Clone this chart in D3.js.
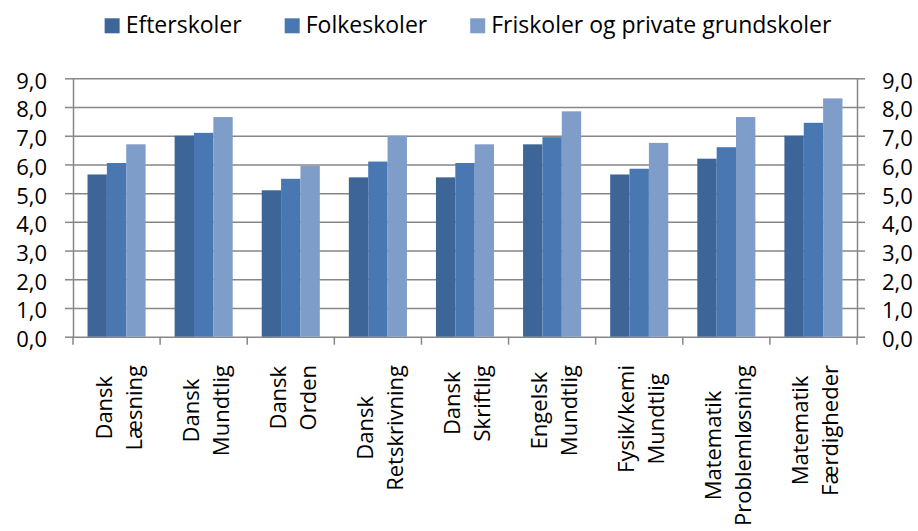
<!DOCTYPE html>
<html>
<head>
<meta charset="utf-8">
<script src="https://cdn.jsdelivr.net/npm/d3@7"></script>
<style>
	body { margin: 0; background: #fff; }
	text { font-family: "Open Sans", "Noto Sans", sans-serif; fill: #000; }
</style>
</head>
<body>
<div class="container"></div>
<script>
var categories = [
	["Dansk", "Læsning"],
	["Dansk", "Mundtlig"],
	["Dansk", "Orden"],
	["Dansk", "Retskrivning"],
	["Dansk", "Skriftlig"],
	["Engelsk", "Mundtlig"],
	["Fysik/kemi", "Mundtlig"],
	["Matematik", "Problemløsning"],
	["Matematik", "Færdigheder"]
];
var seriesNames = ["Efterskoler", "Folkeskoler", "Friskoler og private grundskoler"];
var efterskoler = [5.65, 7.0, 5.1, 5.55, 5.55, 6.7, 5.65, 6.2, 7.0];
var folkeskoler = [6.05, 7.1, 5.5, 6.1, 6.05, 6.95, 5.85, 6.6, 7.45];
var friskoler = [6.7, 7.65, 5.95, 7.0, 6.7, 7.85, 6.75, 7.65, 8.3];
var yTicks = [0, 1, 2, 3, 4, 5, 6, 7, 8, 9];
var colors = ["#3d6597", "#4977b1", "#7f9dc9"];

(function() {
	var width = 918, height = 531;
	var left = 73, right = 857, top = 78.3, bottom = 336.7;
	var values = [efterskoler, folkeskoler, friskoler];

	var svg = d3.select(".container").append("svg")
		.attr("width", width)
		.attr("height", height);

	var x0 = d3.scaleBand()
		.domain(d3.range(categories.length))
		.range([left, right]);
	var x1 = d3.scaleBand()
		.domain(d3.range(seriesNames.length))
		.range([0, x0.bandwidth()])
		.paddingOuter(0.75);
	var y = d3.scaleLinear()
		.domain([0, 9])
		.range([bottom, top]);

	var fmt = function(d) { return d3.format(".1f")(d).replace(".", ","); };

	// gridlines
	var grid = svg.append("g")
		.attr("transform", "translate(" + left + ",0)")
		.call(d3.axisLeft(y).tickValues(yTicks).tickSize(-(right - left)).tickFormat(""));
	grid.select(".domain").remove();
	grid.selectAll("line").attr("stroke", "#878787").attr("stroke-width", 1.5);

	// bars
	var groups = svg.selectAll("g.cat")
		.data(categories)
		.enter().append("g")
		.attr("class", "cat")
		.attr("transform", function(d, i) { return "translate(" + x0(i) + ",0)"; });

	groups.selectAll("rect")
		.data(function(d, i) { return values.map(function(v, s) { return {s: s, v: v[i]}; }); })
		.enter().append("rect")
		.attr("x", function(d) { return x1(d.s); })
		.attr("width", x1.bandwidth())
		.attr("y", function(d) { return y(d.v); })
		.attr("height", function(d) { return bottom - y(d.v); })
		.attr("fill", function(d) { return colors[d.s]; });

	// y axes
	var yLeft = svg.append("g")
		.attr("transform", "translate(" + left + ",0)")
		.call(d3.axisLeft(y).tickValues(yTicks).tickSize(8).tickSizeOuter(0).tickPadding(18).tickFormat(fmt));
	var yRight = svg.append("g")
		.attr("transform", "translate(" + right + ",0)")
		.call(d3.axisRight(y).tickValues(yTicks).tickSize(8).tickSizeOuter(0).tickPadding(17).tickFormat(fmt));
	[yLeft, yRight].forEach(function(ax) {
		ax.select(".domain").attr("stroke", "#878787").attr("stroke-width", 1.5);
		ax.selectAll("line").attr("stroke", "#878787").attr("stroke-width", 1.5);
		ax.selectAll("text")
			.attr("font-size", "22px")
			.attr("font-family", "Open Sans")
			.attr("fill", "#000")
			.attr("dy", "0.45em");
	});

	// bottom ticks at category boundaries
	var bounds = d3.range(categories.length).map(function(i) { return x0(i); }).concat([right]);
	svg.append("g").selectAll("line")
		.data(bounds)
		.enter().append("line")
		.attr("x1", function(d) { return d; })
		.attr("x2", function(d) { return d; })
		.attr("y1", bottom)
		.attr("y2", bottom + 8)
		.attr("stroke", "#878787")
		.attr("stroke-width", 1.5);

	// category labels, rotated, centred on the longest line
	categories.forEach(function(lines, i) {
		var cx = x0(i) + x0.bandwidth() / 2;
		var g = svg.append("g")
			.attr("transform", "translate(" + cx + ",365) rotate(-90)");
		var t = g.selectAll("text")
			.data(lines)
			.enter().append("text")
			.attr("font-size", "22px")
			.attr("text-anchor", "middle")
			.attr("y", function(d, j) { return -5 + j * 30; })
			.text(function(d) { return d; });
		var maxLen = 0;
		t.each(function() { maxLen = Math.max(maxLen, this.getComputedTextLength()); });
		t.attr("x", -maxLen / 2);
	});

	// legend
	var legend = svg.append("g");
	var items = legend.selectAll("g")
		.data(seriesNames)
		.enter().append("g");
	items.append("rect")
		.attr("width", 15)
		.attr("height", 15)
		.attr("y", 18.3)
		.attr("fill", function(d, i) { return colors[i]; });
	items.append("text")
		.attr("x", 21)
		.attr("y", 33.3)
		.attr("font-size", "23px")
		.text(function(d) { return d; });
	var pos = 0, offsets = [];
	items.each(function() {
		offsets.push(pos);
		pos += 21 + this.querySelector("text").getComputedTextLength() + 43;
	});
	pos -= 43;
	var start = 468 - pos / 2;
	items.attr("transform", function(d, i) { return "translate(" + (start + offsets[i]) + ",0)"; });
})();
</script>
</body>
</html>
